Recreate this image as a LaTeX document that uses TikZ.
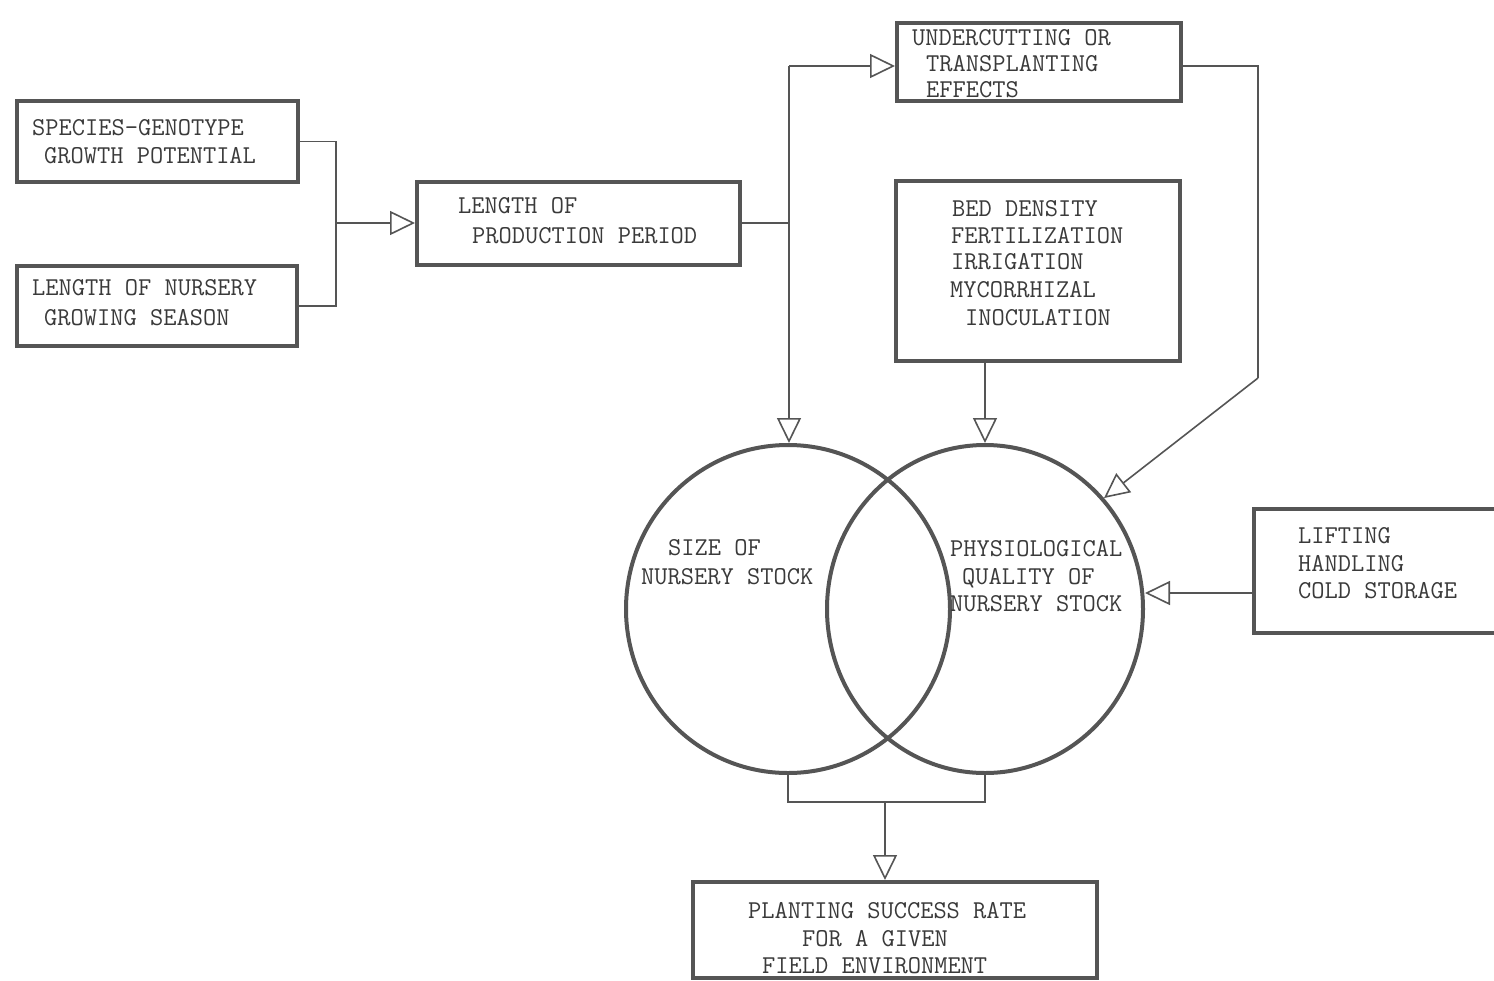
\documentclass[tikz,border=0pt]{standalone}
\usepackage{fontspec}
\usetikzlibrary{arrows.meta,shapes.geometric}
\definecolor{linegray}{HTML}{555555}
\definecolor{textgray}{HTML}{3A3A3A}
\begin{document}
\begin{tikzpicture}[x=1pt,y=-1pt,
  box/.style={draw=linegray, line width=4pt, rectangle, inner sep=0pt},
  circ/.style={draw=linegray, line width=4pt, ellipse, inner sep=0pt},
  conn/.style={draw=linegray, line width=1.6pt},
  arr/.style={conn, -{Triangle[open, length=25pt, width=24pt, line width=1.6pt]}},
  txt/.style={font=\ttfamily\fontsize{25.7}{30}\selectfont, text=textgray, inner sep=0pt, anchor=base west}]
\useasboundingbox (0,0) rectangle (1494,980);
\clip (0,0) rectangle (1494,980);
\fill[white] (0,0) rectangle (1494,980);

% boxes
\node[box, minimum width=281pt, minimum height=81pt] (b1) at (157.5,141.5) {};
\node[box, minimum width=280pt, minimum height=80pt] (b2) at (157,306) {};
\node[box, minimum width=323pt, minimum height=83pt] (b3) at (578.5,223) {};
\node[box, minimum width=284pt, minimum height=78pt] (b4) at (1039,62) {};
\node[box, minimum width=284pt, minimum height=180pt] (b5) at (1038,271) {};
\node[box, minimum width=256pt, minimum height=124pt] (b6) at (1382,571) {};
\node[box, minimum width=404pt, minimum height=96pt] (b7) at (895,930) {};

% circles
\node[circ, minimum width=324pt, minimum height=328pt] (c1) at (788,609) {};
\node[circ, minimum width=316pt, minimum height=328pt] (c2) at (985,609) {};

% texts
\node[txt] (t1a) at (32,135) {SPECIES-GENOTYPE};
\node[txt] (t1b) at (44,163) {GROWTH POTENTIAL};
\node[txt] (t2a) at (32,295) {LENGTH OF NURSERY};
\node[txt] (t2b) at (44,325) {GROWING SEASON};
\node[txt] (t3a) at (458,213) {LENGTH OF};
\node[txt] (t3b) at (472,243) {PRODUCTION PERIOD};
\node[txt] (t4a) at (912,45) {UNDERCUTTING OR};
\node[txt] (t4b) at (926,71) {TRANSPLANTING};
\node[txt] (t4c) at (926,97) {EFFECTS};
\node[txt] (t5a) at (952,216) {BED DENSITY};
\node[txt] (t5b) at (951,243) {FERTILIZATION};
\node[txt] (t5c) at (951,269) {IRRIGATION};
\node[txt] (t5d) at (950,297) {MYCORRHIZAL};
\node[txt] (t5e) at (965,325) {INOCULATION};
\node[txt] (t6a) at (1298,543) {LIFTING};
\node[txt] (t6b) at (1298,571) {HANDLING};
\node[txt] (t6c) at (1298,598) {COLD STORAGE};
\node[txt] (t7a) at (748,918) {PLANTING SUCCESS RATE};
\node[txt] (t7b) at (802,946) {FOR A GIVEN};
\node[txt] (t7c) at (762,973) {FIELD ENVIRONMENT};
\node[txt] (tc1a) at (668,555) {SIZE OF};
\node[txt] (tc1b) at (641,584) {NURSERY STOCK};
\node[txt] (tc2a) at (950,556) {PHYSIOLOGICAL};
\node[txt] (tc2b) at (962,584) {QUALITY OF};
\node[txt] (tc2c) at (950,611) {NURSERY STOCK};

% connectors
\coordinate (j1) at (336,223);
\draw[conn] (b1.east) -| (j1) |- (b2.east);
\draw[arr] (j1) -- (b3.west);

\coordinate (j2) at (789,223);
\coordinate (j3) at (789,66);
\draw[conn] (b3.east) -- (j2);
\draw[arr] (j3) -- (j3 |- c1.north);
\draw[arr] (j3) -- (j3 -| b4.west);

\coordinate (k1) at (1258,66);
\coordinate (k2) at (1258,378);
\draw[conn] (k1 -| b4.east) -- (k1) -- (k2);
\draw[arr] (k2) -- (c2.43);

\draw[arr] (c2.north |- b5.south) -- (c2.north);

\coordinate (b6a) at ([yshift=-22pt]b6.west);
\draw[arr] (b6a) -- (b6a -| c2.east);

\coordinate (m) at (885,802);
\draw[conn] (c1.south) |- (m) -| (c2.south);
\draw[arr] (m) -- (m |- b7.north);
\end{tikzpicture}
\end{document}
